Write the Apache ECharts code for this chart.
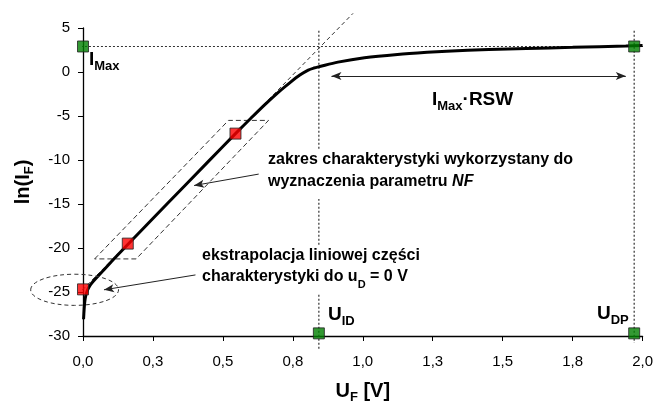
<!DOCTYPE html>
<html><head><meta charset="utf-8">
<script src="https://cdn.jsdelivr.net/npm/echarts@6/dist/echarts.min.js"></script>
<style>html,body{margin:0;padding:0;background:#fff}#c{width:656px;height:409px}</style>
</head><body><div id="c"></div>
<script>
// ---- data ----
const xTickLabels = ['0,0','0,3','0,5','0,8','1,0','1,3','1,5','1,8','2,0'];
const yTickValues = [-30,-25,-20,-15,-10,-5,0,5];
const curveX = [0.002,0.004,0.006,0.01,0.016,0.024,0.036,0.059,0.08,0.112,0.16,0.3,0.45,0.545,0.6,0.65,0.70,0.74,0.775,0.805,0.825,0.846,0.911,1.006,1.124,1.23,1.30,1.45,1.585,1.75,1.94,2.0];
const curveY = [-28.1,-27.0,-26.2,-25.4,-24.8,-24.3,-23.8,-23.0,-22.3,-21.2,-19.6,-15.0,-10.1,-7.0,-5.25,-3.7,-2.25,-1.2,-0.35,0.22,0.45,0.62,1.12,1.62,2.0,2.24,2.36,2.55,2.67,2.8,2.96,3.02];
const redX = [0, 0.16, 0.545];
const redY = [-24.7, -19.5, -7.0];
const greenX = [0, 1.97, 0.843, 1.97];
const greenY = [2.9, 2.9, -29.7, -29.7];
const extrapX = [-0.195, 0.965];
const extrapY = [-31.04, 6.66];
const paraX = [0.0415, 0.52, 0.663, 0.19, 0.0415];
const paraY = [-21.24, -5.5, -5.5, -21.24, -21.24];
const hDotX = [-0.136, 2.03];
const hDotY = [2.9, 2.9];
const vDot1X = [0.843, 0.843];
const vDot1Y = [4.7, -31.5];
const vDot2X = [1.97, 1.97];
const vDot2Y = [4.7, -30.8];
const rswArrow = [[0.888,-0.46],[1.94,-0.46]];
const zakresArrow = [[0.628,-11.6],[0.397,-12.9]];
const ekstrArrow = [[0.402,-23.06],[0.075,-24.75]];
const ellipseC = [-0.03, -24.75];
const ellipseR = [0.157, 1.77];

const FONT = 'Liberation Sans, Arial, Helvetica, sans-serif';
const zip = (xs, ys) => xs.map((x, i) => [x, ys[i]]);

const chart = echarts.init(document.getElementById('c'), null, {renderer: 'canvas'});

// rich styles with a lowered subscript
const subRich = (size, sub, lh) => {
  const p = Math.round(lh/2 + 0.35*size + 3.5 - (sub/2 + 0.35*sub));
  return {
    b: {fontSize: size, fontWeight: 'bold', fontFamily: FONT, color: '#000', lineHeight: lh, verticalAlign: 'top'},
    bi: {fontSize: size, fontWeight: 'bold', fontStyle: 'italic', fontFamily: FONT, color: '#000', lineHeight: lh, verticalAlign: 'top'},
    s: {fontSize: sub, fontWeight: 'bold', fontFamily: FONT, color: '#000', lineHeight: sub, verticalAlign: 'top', padding: [p, 0, 0, 0]}
  };
};

const lineSeries = (data, type, color, width, extra) => Object.assign({
  type: 'line', data: data, symbol: 'none', clip: false, silent: true,
  lineStyle: {type: type, color: color, width: width}, z: 3
}, extra || {});

const arrowMark = (pts, both) => ({
  silent: true,
  symbol: both ? ['arrow','arrow'] : ['none','arrow'],
  symbolSize: [6, 10],
  label: {show: false},
  lineStyle: {type: 'solid', color: '#222', width: 1},
  data: [[{coord: pts[0]}, {coord: pts[1]}]]
});

const option = {
  animation: false,
  backgroundColor: '#fff',
  grid: {left: 83, right: 9, top: 28, bottom: 71, containLabel: false},
  xAxis: {
    type: 'value', min: 0, max: 2, interval: 0.25,
    axisLine: {show: true, onZero: false, lineStyle: {color: '#000', width: 1.3}},
    axisTick: {show: true, length: 5, lineStyle: {color: '#000'}},
    splitLine: {show: false},
    axisLabel: {fontSize: 15, color: '#000', fontFamily: FONT, margin: 18,
      formatter: v => xTickLabels[Math.round(v / 0.25)]},
    name: '{b|U}{s|F}{b| [V]}', nameLocation: 'middle', nameGap: 45,
    nameTextStyle: {rich: subRich(20, 13, 22)}
  },
  yAxis: {
    type: 'value', min: yTickValues[0], max: yTickValues[yTickValues.length-1], interval: 5,
    axisLine: {show: true, onZero: false, lineStyle: {color: '#000', width: 1.3}},
    axisTick: {show: true, length: 5, lineStyle: {color: '#000'}},
    splitLine: {show: false},
    axisLabel: {fontSize: 15, color: '#000', fontFamily: FONT, margin: 13},
    name: '{b|ln(I}{s|F}{b|)}', nameLocation: 'middle', nameGap: 48,
    nameTextStyle: {rich: subRich(20, 13, 22)}
  },
  series: [
    lineSeries(zip(hDotX, hDotY), [2,2], '#333', 1.2),
    lineSeries(zip(vDot1X, vDot1Y), [2,2], '#333', 1.2),
    lineSeries(zip(vDot2X, vDot2Y), [2,2], '#333', 1.2),
    lineSeries(zip(extrapX, extrapY), [4,3], '#333', 1),
    lineSeries(zip(paraX, paraY), [5,3], '#333', 1),
    lineSeries(zip(curveX, curveY), 'solid', '#000', 3, {smooth: 0.3, z: 4}),
    {type: 'line', data: [], symbol: 'none', silent: true, markLine: arrowMark(rswArrow, true)},
    {type: 'line', data: [], symbol: 'none', silent: true, markLine: arrowMark(zakresArrow, false)},
    {type: 'line', data: [], symbol: 'none', silent: true, markLine: arrowMark(ekstrArrow, false)},
    {type: 'scatter', data: zip(redX, redY), symbol: 'rect', symbolSize: 11, clip: false, silent: true, z: 6,
      itemStyle: {color: '#ff0000', borderColor: '#222', borderWidth: 1}},
    {type: 'scatter', data: zip(greenX, greenY), symbol: 'rect', symbolSize: 11, clip: false, silent: true, z: 6,
      itemStyle: {color: '#008000', borderColor: '#222', borderWidth: 1}}
  ]
};
chart.setOption(option);

const c = chart.convertToPixel({gridIndex: 0}, ellipseC);
const e = chart.convertToPixel({gridIndex: 0}, [ellipseC[0] + ellipseR[0], ellipseC[1] + ellipseR[1]]);

const txt = (x, y, text, rich, bg) => ({
  type: 'text', x: x, y: y, z: 100,
  style: {text: text, rich: rich, backgroundColor: bg ? '#fff' : null, padding: bg ? [3, 4] : 0,
    font: 'bold 16px ' + FONT, fill: '#000'}
});

const r19 = subRich(19, 13, 21);

chart.setOption({
  graphic: [
    {type: 'ellipse', z: 50, silent: true,
      shape: {cx: c[0], cy: c[1], rx: Math.abs(e[0]-c[0]), ry: Math.abs(e[1]-c[1])},
      style: {fill: null, stroke: '#333', lineWidth: 1, lineDash: [4,3]}},
    txt(89, 50, '{b|I}{s|Max}', r19, false),
    txt(432, 90, '{b|I}{s|Max}{b|·RSW}', r19, false),
    txt(264, 149, '{b|zakres charakterystyki wykorzystany do}\n{b|wyznaczenia parametru }{bi|NF}', subRich(16, 11, 22), true),
    txt(198, 245, '{b|ekstrapolacja liniowej części}\n{b|charakterystyki do u}{s|D}{b| = 0 V}', subRich(16, 11, 21), true),
    txt(328, 305, '{b|U}{s|ID}', r19, false),
    txt(597, 304, '{b|U}{s|DP}', r19, false)
  ]
});
</script></body></html>
